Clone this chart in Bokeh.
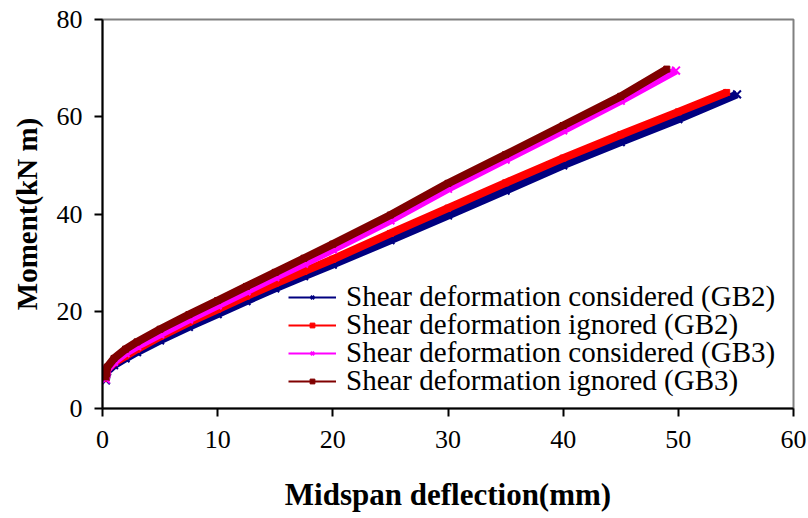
from bokeh.plotting import figure
from bokeh.models import FixedTicker, Legend, LegendItem, ColumnDataSource, Range1d
from bokeh.embed import file_html
from bokeh.resources import INLINE

# Midspan deflection (mm) vs moment (kN m) for two girders, with/without shear deformation
gb2_cons_x = [0.3, 0.4, 1, 2, 3, 5, 7.5, 10, 12.5, 15, 17.5, 20, 25, 30, 35, 40, 45, 50, 55.1]
gb2_cons_y = [5.8, 7.6, 8.9, 10.3, 11.6, 14.0, 16.8, 19.4, 22.1, 24.7, 27.2, 29.6, 34.6, 39.7, 44.8, 50.0, 54.8, 59.5, 64.6]

gb2_ign_x = [0.3, 0.4, 1, 2, 3, 5, 7.5, 10, 12.5, 15, 17.5, 20, 25, 30, 35, 40, 45, 50, 54.2]
gb2_ign_y = [6.2, 8.0, 9.4, 10.8, 12.2, 14.8, 17.7, 20.4, 23.1, 25.7, 28.2, 30.7, 36.0, 41.2, 46.4, 51.5, 56.3, 61.0, 65.0]

gb3_cons_x = [0.3, 0.4, 1, 2, 3, 5, 7.5, 10, 12.5, 15, 17.5, 20, 25, 30, 35, 40, 45, 49.8]
gb3_cons_y = [6.0, 8.0, 9.6, 11.4, 12.8, 15.3, 18.3, 21.2, 24.1, 27.0, 29.8, 32.7, 38.7, 45.2, 51.2, 57.2, 63.3, 69.5]

gb3_ign_x = [0.3, 0.4, 1, 2, 3, 5, 7.5, 10, 12.5, 15, 17.5, 20, 25, 30, 35, 40, 45, 49.0]
gb3_ign_y = [6.5, 8.5, 10.3, 12.2, 13.7, 16.3, 19.3, 22.2, 25.1, 28.0, 30.9, 33.8, 39.8, 46.3, 52.2, 58.2, 64.2, 69.8]

labels = [
    "Shear deformation considered (GB2)",
    "Shear deformation ignored (GB2)",
    "Shear deformation considered (GB3)",
    "Shear deformation ignored (GB3)",
]
colors = ["#000080", "#FF0000", "#FF00FF", "#800000"]
markers = ["x", "square", "x", "square"]

x_ticks = [0, 10, 20, 30, 40, 50, 60]
y_ticks = [0, 20, 40, 60, 80]

FONT = "Liberation Serif"

p = figure(width=808, height=518, output_backend="svg", toolbar_location=None,
           x_range=Range1d(0, 60), y_range=Range1d(0, 80),
           min_border_left=102, min_border_right=15, min_border_top=19, min_border_bottom=110)
p.background_fill_color = "white"
p.border_fill_color = "white"
p.outline_line_color = "#808080"
p.outline_line_width = 2
p.xgrid.visible = False
p.ygrid.visible = False

for ax, ticks in ((p.xaxis[0], x_ticks), (p.yaxis[0], y_ticks)):
    ax.ticker = FixedTicker(ticks=ticks)
    ax.minor_tick_line_color = None
    ax.major_tick_out = 8
    ax.major_tick_in = 0
    ax.major_tick_line_width = 2
    ax.axis_line_width = 2
    ax.axis_line_color = "black"
    ax.major_tick_line_color = "black"
    ax.major_label_text_font = FONT
    ax.major_label_text_font_size = "26px"
    ax.major_label_text_color = "black"
    ax.axis_label_text_font = FONT
    ax.axis_label_text_font_style = "bold"
    ax.axis_label_text_color = "black"

p.xaxis.axis_label_text_font_size = "31px"
p.yaxis.axis_label_text_font_size = "29px"
p.xaxis.axis_label = "Midspan deflection(mm)"
p.yaxis.axis_label = "Moment(kN m)"
p.xaxis.major_label_standoff = 14
p.xaxis.axis_label_standoff = 26
p.yaxis.major_label_standoff = 12
p.yaxis.axis_label_standoff = 11

series = [
    (gb2_cons_x, gb2_cons_y),
    (gb2_ign_x, gb2_ign_y),
    (gb3_cons_x, gb3_cons_y),
    (gb3_ign_x, gb3_ign_y),
]

# one legend row per series, stacked with a tight row pitch
row_offsets = [95, 67, 39, 11]

for (xs, ys), lab, col, mk, row_y in zip(series, labels, colors, markers, row_offsets):
    src = ColumnDataSource(dict(x=xs, y=ys))
    p.line("x", "y", source=src, line_color=col, line_width=8, line_join="round")
    if mk == "x":
        p.scatter("x", "y", source=src, marker="x", size=11, line_color=col, line_width=2)
    else:
        p.scatter("x", "y", source=src, marker="square", size=6, fill_color=col, line_color=col)
    # thin legend sample (line with marker), placed off the visible range
    off = ColumnDataSource(dict(x=[-100], y=[-100]))
    lr = p.line("x", "y", source=off, line_color=col, line_width=2)
    if mk == "x":
        sr = p.scatter("x", "y", source=off, marker="x", size=10, line_color=col, line_width=2)
    else:
        sr = p.scatter("x", "y", source=off, marker="square", size=6, fill_color=col, line_color=col)
    leg = Legend(items=[LegendItem(label=lab, renderers=[lr, sr])], location=(186, row_y),
                 label_text_font=FONT, label_text_font_size="29px", label_text_color="black",
                 glyph_width=48, glyph_height=12, label_height=12, label_standoff=10,
                 padding=0, margin=0, border_line_color=None, background_fill_alpha=0)
    p.add_layout(leg, "center")

open("out.html", "w").write(file_html(p, INLINE))
